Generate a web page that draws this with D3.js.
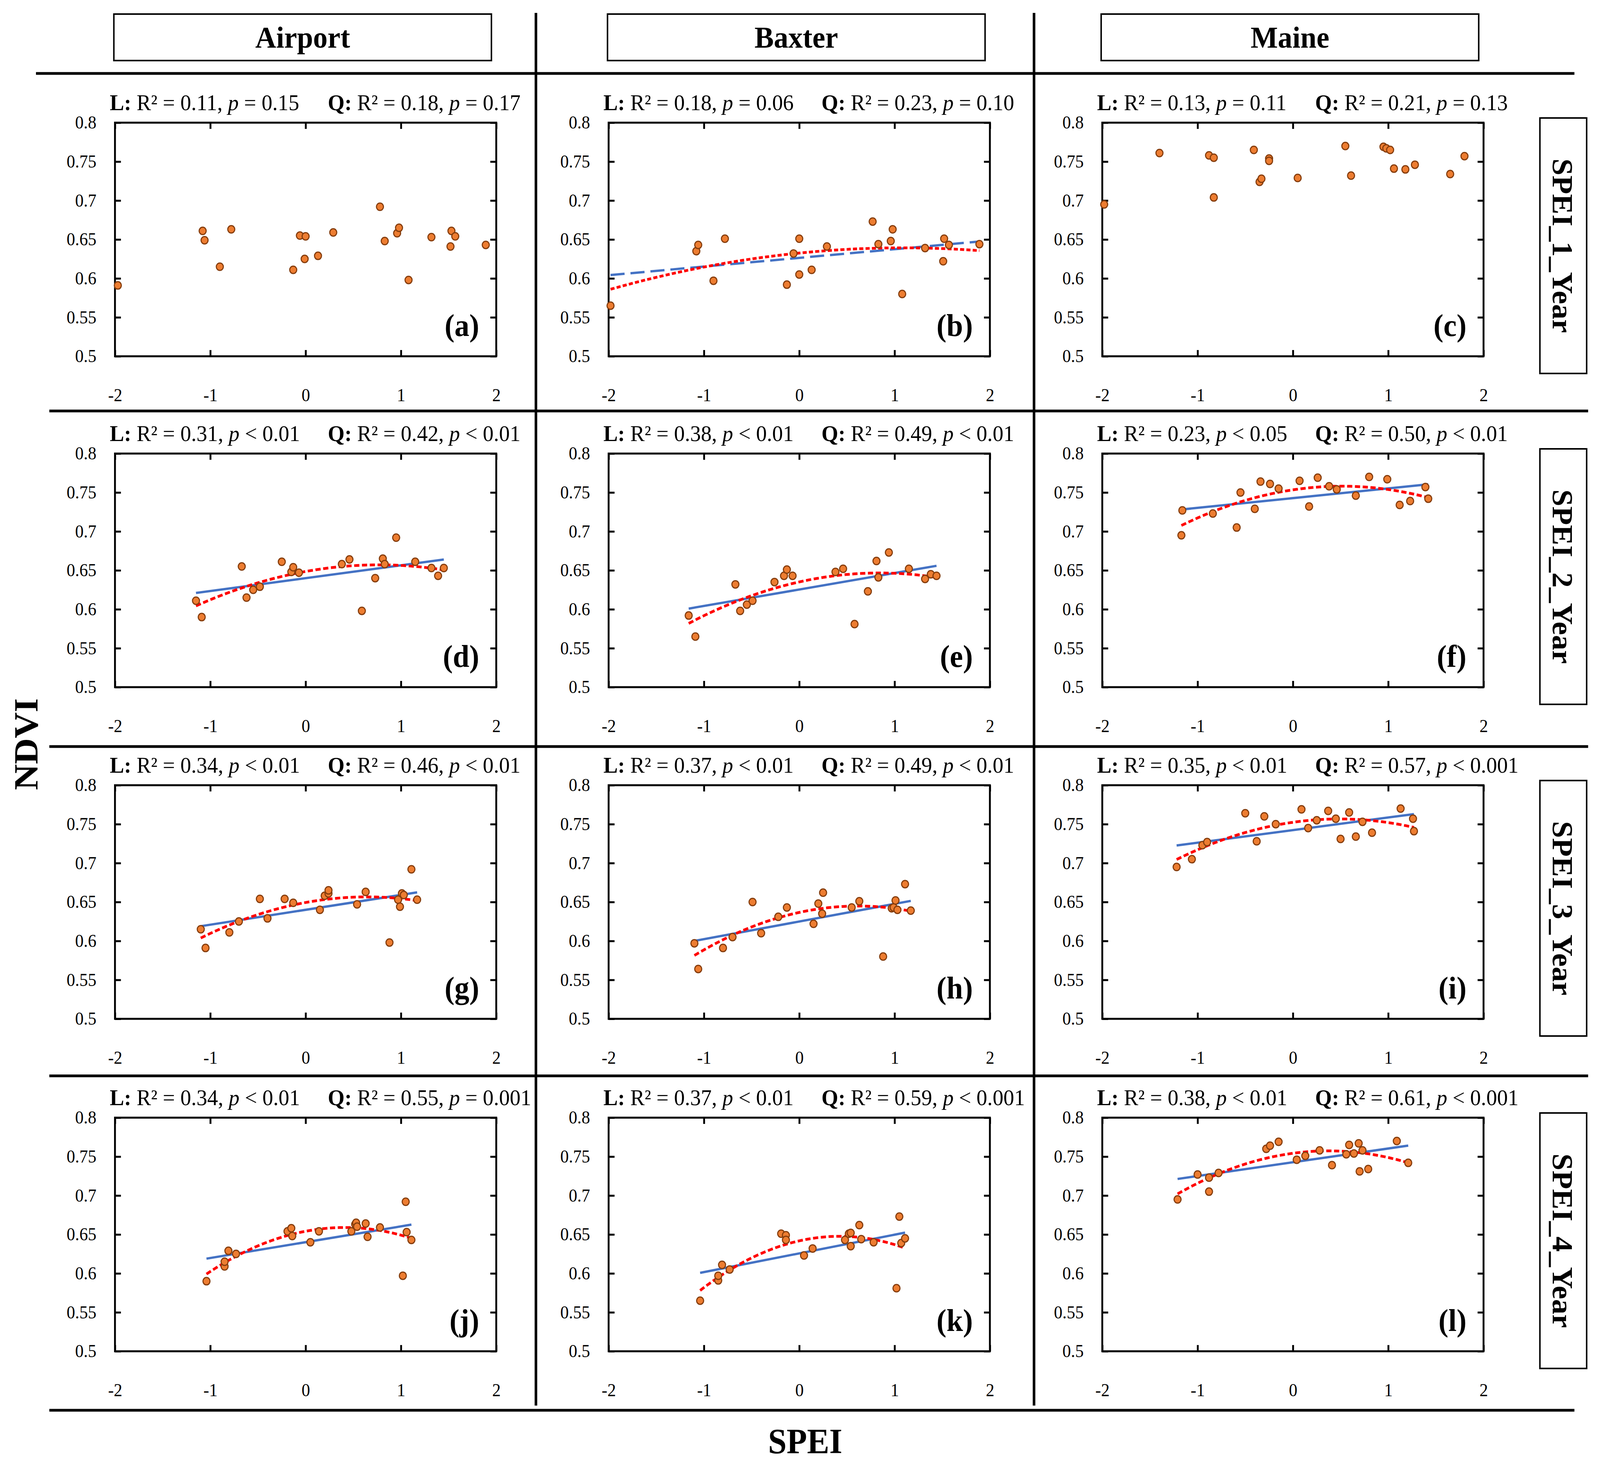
<!DOCTYPE html>
<html>
<head>
<meta charset="utf-8">
<script src="https://cdn.jsdelivr.net/npm/d3@7"></script>
<style>
  html, body { margin: 0; padding: 0; background: #fff; overflow: hidden; }
  #chart svg { display: block; width: 100vw; height: 100vh; }
  text { font-family: "Liberation Serif", "Times New Roman", serif; }
</style>
</head>
<body>
<div id="chart"></div>
<script>
// column / row labels
const sites = ["Airport", "Baxter", "Maine"];
const speiScales = ["SPEI_1_Year", "SPEI_2_Year", "SPEI_3_Year", "SPEI_4_Year"];
const panelLetters = ["(a)", "(b)", "(c)", "(d)", "(e)", "(f)", "(g)", "(h)", "(i)", "(j)", "(k)", "(l)"];

// fit statistics printed above each panel
const linR2 = ["0.11", "0.18", "0.13", "0.31", "0.38", "0.23", "0.34", "0.37", "0.35", "0.34", "0.37", "0.38"];
const linP = ["= 0.15", "= 0.06", "= 0.11", "< 0.01", "< 0.01", "< 0.05", "< 0.01", "< 0.01", "< 0.01", "< 0.01", "< 0.01", "< 0.01"];
const quadR2 = ["0.18", "0.23", "0.21", "0.42", "0.49", "0.50", "0.46", "0.49", "0.57", "0.55", "0.59", "0.61"];
const quadP = ["= 0.17", "= 0.10", "= 0.13", "< 0.01", "< 0.01", "< 0.01", "< 0.01", "< 0.01", "< 0.001", "= 0.001", "< 0.001", "< 0.001"];
// which trend lines are drawn: none, dashed (weak), solid
const fitStyle = ["none", "dashed", "none", "solid", "solid", "solid", "solid", "solid", "solid", "solid", "solid", "solid"];

// axis ticks
const xTicks = [-2, -1, 0, 1, 2];
const xTickLabels = ["-2", "-1", "0", "1", "2"];
const yTicks = [0.5, 0.55, 0.6, 0.65, 0.7, 0.75, 0.8];
const yTickLabels = ["0.5", "0.55", "0.6", "0.65", "0.7", "0.75", "0.8"];

// SPEI (x) and NDVI (y) per panel
const a_spei = [-1.97, -1.08, -1.06, -0.90, -0.78, -0.13, -0.06, 0.00, -0.01, 0.13, 0.29, 0.78, 0.83, 0.96, 0.98, 1.08, 1.32, 1.52, 1.53, 1.57, 1.89];
const a_ndvi = [0.591, 0.661, 0.649, 0.615, 0.663, 0.611, 0.655, 0.654, 0.625, 0.629, 0.659, 0.692, 0.648, 0.658, 0.665, 0.598, 0.653, 0.641, 0.661, 0.654, 0.643];
const b_spei = [-1.98, -1.08, -1.06, -0.90, -0.78, -0.13, -0.06, 0.00, 0.00, 0.13, 0.29, 0.77, 0.83, 0.96, 0.98, 1.08, 1.32, 1.51, 1.52, 1.57, 1.89];
const b_ndvi = [0.565, 0.635, 0.643, 0.597, 0.651, 0.592, 0.632, 0.651, 0.605, 0.611, 0.641, 0.673, 0.644, 0.648, 0.663, 0.580, 0.639, 0.622, 0.651, 0.643, 0.644];
const c_spei = [-1.98, -1.40, -0.88, -0.83, -0.83, -0.41, -0.35, -0.33, -0.25, -0.25, 0.05, 0.55, 0.61, 0.95, 0.98, 1.02, 1.06, 1.18, 1.28, 1.65, 1.80];
const c_ndvi = [0.695, 0.761, 0.758, 0.755, 0.704, 0.765, 0.724, 0.728, 0.754, 0.751, 0.729, 0.770, 0.732, 0.769, 0.767, 0.765, 0.741, 0.740, 0.746, 0.734, 0.757];
const d_spei = [-1.15, -1.09, -0.67, -0.62, -0.55, -0.48, -0.25, -0.15, -0.13, -0.07, 0.38, 0.46, 0.59, 0.73, 0.81, 0.83, 0.95, 1.15, 1.32, 1.39, 1.45];
const d_ndvi = [0.611, 0.590, 0.655, 0.615, 0.625, 0.629, 0.661, 0.648, 0.654, 0.647, 0.658, 0.664, 0.598, 0.640, 0.665, 0.658, 0.692, 0.661, 0.653, 0.643, 0.653];
const e_spei = [-1.16, -1.09, -0.67, -0.62, -0.55, -0.49, -0.26, -0.16, -0.13, -0.07, 0.38, 0.46, 0.58, 0.72, 0.81, 0.83, 0.94, 1.15, 1.32, 1.38, 1.44];
const e_ndvi = [0.592, 0.565, 0.632, 0.598, 0.606, 0.611, 0.635, 0.643, 0.651, 0.643, 0.648, 0.652, 0.581, 0.623, 0.662, 0.641, 0.673, 0.652, 0.639, 0.645, 0.643];
const f_spei = [-1.16, -1.17, -0.84, -0.59, -0.55, -0.40, -0.34, -0.24, -0.15, 0.07, 0.17, 0.26, 0.38, 0.46, 0.66, 0.80, 0.99, 1.12, 1.23, 1.39, 1.42];
const f_ndvi = [0.727, 0.695, 0.723, 0.705, 0.750, 0.729, 0.764, 0.761, 0.755, 0.765, 0.732, 0.769, 0.758, 0.754, 0.746, 0.770, 0.767, 0.734, 0.739, 0.757, 0.742];
const g_spei = [-1.10, -1.05, -0.80, -0.70, -0.48, -0.40, -0.22, -0.13, 0.15, 0.20, 0.24, 0.24, 0.54, 0.63, 0.88, 0.97, 0.99, 1.01, 1.03, 1.11, 1.17];
const g_ndvi = [0.615, 0.591, 0.611, 0.625, 0.654, 0.629, 0.654, 0.649, 0.640, 0.658, 0.661, 0.665, 0.647, 0.663, 0.598, 0.653, 0.644, 0.661, 0.659, 0.692, 0.653];
const h_spei = [-1.10, -1.06, -0.80, -0.70, -0.49, -0.40, -0.22, -0.13, 0.15, 0.20, 0.24, 0.25, 0.55, 0.63, 0.88, 0.97, 0.99, 1.01, 1.03, 1.11, 1.17];
const h_ndvi = [0.597, 0.564, 0.591, 0.605, 0.650, 0.610, 0.631, 0.643, 0.622, 0.648, 0.635, 0.662, 0.643, 0.651, 0.580, 0.642, 0.643, 0.652, 0.640, 0.673, 0.639];
const i_spei = [-1.22, -1.06, -0.95, -0.90, -0.50, -0.38, -0.30, -0.18, 0.09, 0.16, 0.25, 0.37, 0.45, 0.50, 0.59, 0.66, 0.73, 0.83, 1.13, 1.26, 1.27];
const i_ndvi = [0.695, 0.705, 0.723, 0.727, 0.764, 0.728, 0.760, 0.750, 0.769, 0.745, 0.755, 0.767, 0.757, 0.731, 0.765, 0.734, 0.753, 0.739, 0.770, 0.757, 0.741];
const j_spei = [-1.04, -0.85, -0.85, -0.81, -0.73, -0.19, -0.15, -0.14, 0.05, 0.14, 0.48, 0.52, 0.53, 0.54, 0.63, 0.65, 0.78, 1.02, 1.05, 1.06, 1.11];
const j_ndvi = [0.590, 0.609, 0.615, 0.629, 0.625, 0.654, 0.658, 0.648, 0.640, 0.654, 0.654, 0.663, 0.665, 0.660, 0.664, 0.647, 0.659, 0.597, 0.692, 0.653, 0.643];
const k_spei = [-1.04, -0.85, -0.85, -0.81, -0.73, -0.19, -0.14, -0.14, 0.05, 0.14, 0.48, 0.52, 0.54, 0.54, 0.63, 0.65, 0.78, 1.02, 1.05, 1.07, 1.11];
const k_ndvi = [0.565, 0.591, 0.597, 0.611, 0.605, 0.651, 0.649, 0.643, 0.623, 0.632, 0.643, 0.651, 0.652, 0.635, 0.662, 0.644, 0.640, 0.581, 0.673, 0.639, 0.645];
const l_spei = [-1.21, -1.00, -0.88, -0.88, -0.78, -0.28, -0.24, -0.15, 0.04, 0.13, 0.28, 0.41, 0.56, 0.59, 0.64, 0.69, 0.70, 0.73, 0.79, 1.09, 1.21];
const l_ndvi = [0.695, 0.727, 0.705, 0.723, 0.729, 0.760, 0.764, 0.769, 0.746, 0.751, 0.758, 0.739, 0.753, 0.765, 0.754, 0.767, 0.731, 0.758, 0.734, 0.770, 0.742];

const panelSpei = [a_spei, b_spei, c_spei, d_spei, e_spei, f_spei, g_spei, h_spei, i_spei, j_spei, k_spei, l_spei];
const panelNdvi = [a_ndvi, b_ndvi, c_ndvi, d_ndvi, e_ndvi, f_ndvi, g_ndvi, h_ndvi, i_ndvi, j_ndvi, k_ndvi, l_ndvi];

// ---- layout (4314 x 3745 user units, stretched over the whole window) ----
const W = 4314, H = 3745;
const colX = [310, 1641, 2972];
const rowY = [314, 1161, 2010, 2861];
const boxW = 1028, boxH = 598;
const font = '"Liberation Serif", "Times New Roman", serif';

const svg = d3.select("#chart").append("svg")
  .attr("viewBox", `0 0 ${W} ${H}`)
  .attr("preserveAspectRatio", "none");
svg.append("rect").attr("width", W).attr("height", H).attr("fill", "#fff");

// least squares fits
const linFit = (xs, ys) => {
  const mx = d3.mean(xs), my = d3.mean(ys);
  const b = d3.sum(xs, (x, i) => (x - mx) * (ys[i] - my)) / d3.sum(xs, x => (x - mx) ** 2);
  return x => my + b * (x - mx);
};
const quadFit = (xs, ys) => {
  const s = k => d3.sum(xs, x => x ** k);
  const t = k => d3.sum(xs, (x, i) => x ** k * ys[i]);
  // normal equations, solved by Cramer's rule
  const A = [[s(0), s(1), s(2)], [s(1), s(2), s(3)], [s(2), s(3), s(4)]];
  const v = [t(0), t(1), t(2)];
  const det = m => m[0][0] * (m[1][1] * m[2][2] - m[1][2] * m[2][1])
    - m[0][1] * (m[1][0] * m[2][2] - m[1][2] * m[2][0])
    + m[0][2] * (m[1][0] * m[2][1] - m[1][1] * m[2][0]);
  const D = det(A);
  const c = [0, 1, 2].map(j => det(A.map((row, r) => row.map((val, k) => k === j ? v[r] : val))) / D);
  return x => c[0] + c[1] * x + c[2] * x * x;
};

panelSpei.forEach((xs, idx) => {
  const r = Math.floor(idx / 3), c = idx % 3;
  const x0 = colX[c], y0 = rowY[r];
  const ys = panelNdvi[idx];

  const x = d3.scaleLinear().domain([-2, 2]).range([x0, x0 + boxW]);
  const y = d3.scaleLinear().domain([0.5, 0.8]).range([y0 + boxH, y0]);

  const g = svg.append("g");

  // inward ticks on all four sides, labels on left and bottom
  const styleAxis = sel => {
    sel.select(".domain").remove();
    sel.selectAll(".tick line").attr("stroke", "#000").attr("stroke-width", 5);
    sel.selectAll(".tick text").attr("fill", "#000").attr("font-size", 46).attr("font-family", font);
  };
  g.append("g").attr("transform", `translate(0,${y0 + boxH})`)
    .call(d3.axisBottom(x).tickValues(xTicks).tickSize(-16).tickPadding(82)
      .tickFormat((d, i) => xTickLabels[i]))
    .call(styleAxis);
  g.append("g").attr("transform", `translate(0,${y0})`)
    .call(d3.axisTop(x).tickValues(xTicks).tickSize(-16).tickFormat(""))
    .call(styleAxis);
  g.append("g").attr("transform", `translate(${x0},0)`)
    .call(d3.axisLeft(y).tickValues(yTicks).tickSize(-16).tickPadding(50)
      .tickFormat((d, i) => yTickLabels[i]))
    .call(styleAxis);
  g.append("g").attr("transform", `translate(${x0 + boxW},0)`)
    .call(d3.axisRight(y).tickValues(yTicks).tickSize(-16).tickFormat(""))
    .call(styleAxis);

  g.append("rect")
    .attr("x", x0).attr("y", y0).attr("width", boxW).attr("height", boxH)
    .attr("fill", "none").attr("stroke", "#000").attr("stroke-width", 5);

  // trend lines
  if (fitStyle[idx] !== "none") {
    const [lo, hi] = d3.extent(xs);
    const samples = d3.range(0, 61).map(k => lo + (hi - lo) * k / 60);
    const lf = linFit(xs, ys), qf = quadFit(xs, ys);
    const line = f => d3.line().x(d => x(d)).y(d => y(f(d)));
    const dashed = fitStyle[idx] === "dashed";

    g.append("path").datum([lo, hi])
      .attr("d", line(lf))
      .attr("fill", "none").attr("stroke", "#4472C4").attr("stroke-width", 6)
      .attr("stroke-dasharray", dashed ? "38,16" : null);
    g.append("path").datum(samples)
      .attr("d", line(qf))
      .attr("fill", "none").attr("stroke", "#FF0000").attr("stroke-width", 7)
      .attr("stroke-dasharray", dashed ? "11,6" : "14,7");
  }

  // points
  g.selectAll("circle").data(xs).join("circle")
    .attr("cx", d => x(d))
    .attr("cy", (d, i) => y(ys[i]))
    .attr("r", 9.5)
    .attr("fill", "#ED7D31")
    .attr("stroke", "#843C0C")
    .attr("stroke-width", 3);

  // statistics line above the box
  const stat = (tx, key, r2, p) => {
    const t = g.append("text").attr("x", tx).attr("y", y0 - 32)
      .attr("font-size", 58).attr("fill", "#000");
    t.append("tspan").attr("font-weight", "bold").text(key + " ");
    t.append("tspan").text("R² = " + r2 + ", ");
    t.append("tspan").attr("font-style", "italic").text("p");
    t.append("tspan").text(" " + p);
  };
  stat(x0 - 14, "L:", linR2[idx], linP[idx]);
  stat(x0 + 574, "Q:", quadR2[idx], quadP[idx]);

  // panel letter
  g.append("text")
    .attr("x", x0 + boxW - 46).attr("y", y0 + boxH - 52)
    .attr("text-anchor", "end")
    .attr("font-size", 80).attr("font-weight", "bold")
    .text(panelLetters[idx]);
});

// column headers
sites.forEach((s, c) => {
  const cx = colX[c] + boxW / 2 - 8;
  svg.append("rect")
    .attr("x", cx - 509).attr("y", 36).attr("width", 1018).attr("height", 119)
    .attr("fill", "none").attr("stroke", "#000").attr("stroke-width", 4);
  svg.append("text")
    .attr("x", cx).attr("y", 122)
    .attr("text-anchor", "middle").attr("font-size", 78).attr("font-weight", "bold")
    .text(s);
});

// row labels on the right
speiScales.forEach((s, r) => {
  const cy = rowY[r] + boxH / 2 + 16;
  svg.append("rect")
    .attr("x", 4152).attr("y", cy - 327).attr("width", 126).attr("height", 654)
    .attr("fill", "none").attr("stroke", "#000").attr("stroke-width", 4);
  svg.append("text")
    .attr("transform", `translate(4214,${cy}) rotate(90)`)
    .attr("text-anchor", "middle").attr("dy", "0.35em")
    .attr("font-size", 78).attr("font-weight", "bold")
    .text(s);
});

// separator lines
const rule = (x1, y1, x2, y2) => svg.append("line")
  .attr("x1", x1).attr("y1", y1).attr("x2", x2).attr("y2", y2)
  .attr("stroke", "#000").attr("stroke-width", 7);
rule(97, 188, 4245, 188);
[1052, 1911, 2754].forEach(yy => rule(133, yy, 4282, yy));
rule(133, 3610, 4245, 3610);
rule(1445, 33, 1445, 3598);
rule(2788, 33, 2788, 3598);

// axis titles
svg.append("text")
  .attr("transform", "translate(69,1905) rotate(-90)")
  .attr("text-anchor", "middle").attr("dy", "0.35em")
  .attr("font-size", 92).attr("font-weight", "bold")
  .text("NDVI");
svg.append("text")
  .attr("x", 2171).attr("y", 3720)
  .attr("text-anchor", "middle")
  .attr("font-size", 90).attr("font-weight", "bold")
  .text("SPEI");
</script>
</body>
</html>
